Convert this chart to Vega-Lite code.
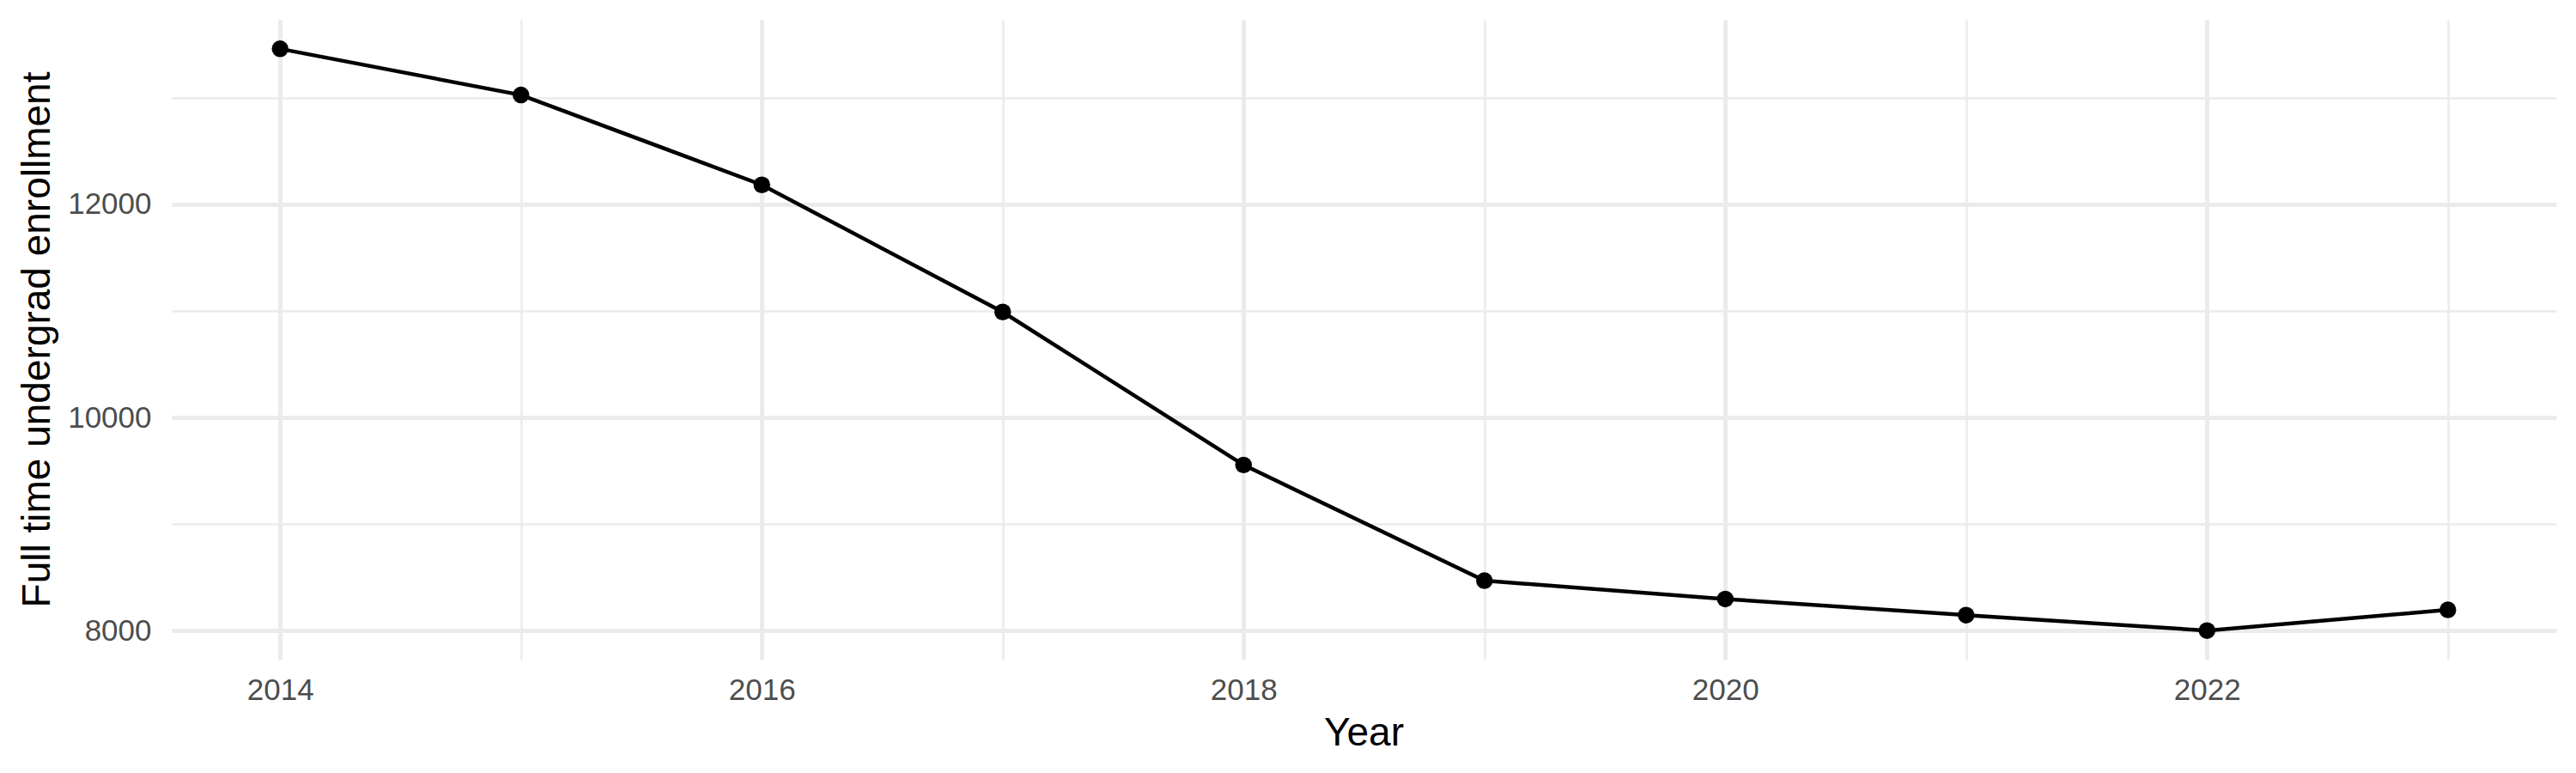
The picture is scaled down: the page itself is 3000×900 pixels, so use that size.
{
  "$schema": "https://vega.github.io/schema/vega-lite/v6.json",
  "autosize": "none",
  "padding": {"left": 200, "top": 23, "right": 23, "bottom": 132},
  "width": 2777,
  "height": 745,
  "background": "white",
  "config": {
    "view": {"stroke": null},
    "font": "Liberation Sans",
    "axis": {
      "domain": false,
      "ticks": false,
      "gridColor": "#EBEBEB",
      "labelFont": "Liberation Sans",
      "labelFontSize": 35,
      "labelColor": "#4D4D4D",
      "titleFont": "Liberation Sans",
      "titleFontSize": 46,
      "titleFontWeight": "normal",
      "titleColor": "#000000"
    }
  },
  "data": {
    "values": [
      {"year": 2014, "enrollment": 13460},
      {"year": 2015, "enrollment": 13027},
      {"year": 2016, "enrollment": 12183},
      {"year": 2017, "enrollment": 10990},
      {"year": 2018, "enrollment": 9554},
      {"year": 2019, "enrollment": 8468},
      {"year": 2020, "enrollment": 8296},
      {"year": 2021, "enrollment": 8145},
      {"year": 2022, "enrollment": 8000},
      {"year": 2023, "enrollment": 8194}
    ]
  },
  "encoding": {
    "x": {
      "field": "year",
      "type": "quantitative",
      "title": "Year",
      "scale": {"domain": [2013.55, 2023.45], "nice": false, "zero": false},
      "axis": {
        "values": [2014, 2015, 2016, 2017, 2018, 2019, 2020, 2021, 2022, 2023],
        "format": "d",
        "labelExpr": "datum.value % 2 === 0 ? datum.label : ''",
        "labelPadding": 18,
        "gridWidth": {"condition": {"test": "datum.value % 2 === 0", "value": 5}, "value": 2.5},
        "titleBaseline": "alphabetic",
        "titleX": 1388,
        "titleY": 99
      }
    },
    "y": {
      "field": "enrollment",
      "type": "quantitative",
      "title": "Full time undergrad enrollment",
      "scale": {"domain": [7727, 13733], "nice": false, "zero": false},
      "axis": {
        "values": [8000, 9000, 10000, 11000, 12000, 13000],
        "format": "d",
        "labelExpr": "datum.value % 2000 === 0 ? datum.label : ''",
        "labelPadding": 24,
        "gridWidth": {"condition": {"test": "datum.value % 2000 === 0", "value": 5}, "value": 2.5},
        "titleBaseline": "alphabetic",
        "titleAngle": 270,
        "titleAlign": "center",
        "titleX": -143,
        "titleY": 372
      }
    }
  },
  "layer": [
    {"mark": {"type": "line", "color": "#000000", "strokeWidth": 4.5}},
    {"mark": {"type": "point", "shape": "circle", "filled": true, "color": "#000000", "opacity": 1, "size": 380}}
  ]
}
